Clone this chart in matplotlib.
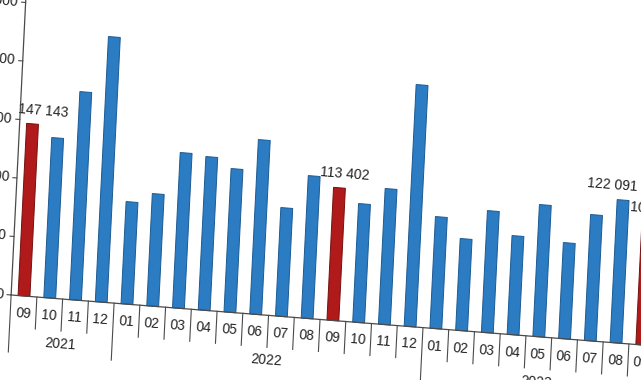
import numpy as np
import matplotlib
matplotlib.use("Agg")
import matplotlib.pyplot as plt
from matplotlib.transforms import Affine2D
from matplotlib import font_manager

# ---------------- data ----------------
months = ["09", "10", "11", "12", "01", "02", "03", "04", "05", "06", "07", "08",
          "09", "10", "11", "12", "01", "02", "03", "04", "05", "06", "07", "08", "09"]
years = ["2021", "2022", "2023"]
year_sizes = [4, 12, 9]
values = [147143, 136800, 177800, 226600, 87300, 95900, 132700, 131000, 122500,
          149000, 92650, 121700, 113402, 101300, 115900, 206500, 95400, 78400,
          104000, 84400, 112650, 81900, 107600, 122091, 104500]
highlight = [0, 12, 24]
labelled = [0, 12, 23, 24]
yticks = [0, 50000, 100000, 150000, 200000, 250000]

# ---------------- style / layout ----------------
names = {f.name for f in font_manager.fontManager.ttflist}
FAM = "Liberation Sans Narrow" if "Liberation Sans Narrow" in names else "Liberation Sans"
plt.rcParams["font.family"] = [FAM, "DejaVu Sans"]

BLUE, BLUE_E = "#2b7cc2", "#1b5a92"
RED, RED_E = "#b01a1a", "#741010"
TXT = "#222222"
LINE = "#4a4a4a"

# affine map of the (slightly tilted) chart plane onto image pixels
A, B, X0 = 25.74, 2.9 / 50000, 24.0      # x_img = X0 + A*i + B*v
C, D, Y0 = 2.04, 58.5 / 50000, 296.0     # y_img = Y0 + C*i - D*v
ROT = np.degrees(np.arctan2(-C, A))
label_dx = {0: 0.40, 12: 0.18, 23: -0.45, 24: 0.25}

fig = plt.figure(figsize=(6.41, 3.80), dpi=100)
ax = fig.add_axes([0, 0, 1, 1])
ax.set_axis_off()
T = Affine2D(np.array([[A, B, X0], [C, -D, Y0], [0, 0, 1]])) + ax.transData

def px(p):
    """pixel distance along the chart's value direction -> value units"""
    return p / D

n = len(values)
idx = np.arange(n)
cols = [RED if k in highlight else BLUE for k in idx]
edges = [RED_E if k in highlight else BLUE_E for k in idx]
ax.bar(idx, values, width=0.46, color=cols, edgecolor=edges, linewidth=0.7,
       transform=T, zorder=3)

# axes lines
ax.plot([-0.5, n + 1], [0, 0], color=LINE, lw=0.9, transform=T, zorder=4)
ax.plot([-0.5, -0.5], [0, 262000], color=LINE, lw=0.9, transform=T, zorder=4)
for v in yticks:
    ax.plot([-0.5 - 4 / A, -0.5], [v, v], color=LINE, lw=0.8, transform=T)
    s = f"{v:,}".replace(",", " ")
    ax.text(-0.5 - 8 / A, v, s, transform=T, ha="right", va="center",
            rotation=ROT, rotation_mode="anchor", fontsize=10, color=TXT)

# category separators and year groups
bounds = np.cumsum([0] + year_sizes) - 0.5
for k in range(n + 2):
    b = k - 0.5
    long = any(abs(b - bb) < 1e-9 for bb in bounds[:-1])
    ax.plot([b, b], [0, -px(57 if long else 32)], color=LINE, lw=0.8,
            transform=T, zorder=2)

for k, m in enumerate(months):
    ax.text(k, -px(17.5), m, transform=T, ha="center", va="center",
            rotation=ROT, rotation_mode="anchor", fontsize=10, color=TXT)

start = 0
for y, sz in zip(years, year_sizes):
    ax.text(start + (sz - 1) / 2, -px(45), y, transform=T, ha="center", va="center",
            rotation=ROT, rotation_mode="anchor", fontsize=10, color=TXT)
    start += sz

for k in labelled:
    s = f"{values[k]:,}".replace(",", " ")
    ax.text(k + label_dx[k], values[k] + px(14), s, transform=T, ha="center",
            va="center", rotation=ROT, rotation_mode="anchor", fontsize=10, color=TXT)

ax.set_xlim(0, 641)
ax.set_ylim(380, 0)
fig.savefig("out.png", dpi=100)
